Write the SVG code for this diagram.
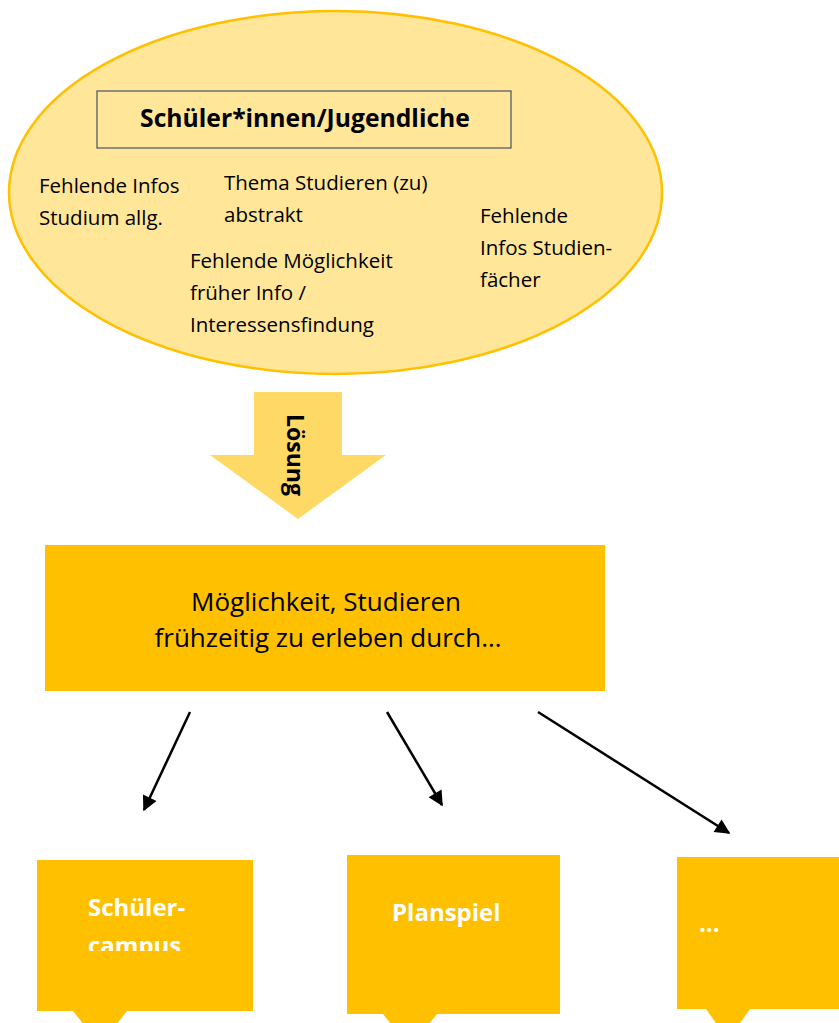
<svg xmlns="http://www.w3.org/2000/svg" width="839" height="1023" viewBox="0 0 839 1023">
<style>
.t{font-family:"Open Sans","Liberation Sans",sans-serif;fill:#000}
.body{font-size:20.5px}
.w{font-family:"Open Sans","Liberation Sans",sans-serif;font-weight:bold;font-size:24px;fill:#fff}
.box{fill:#FFC000}
.conn{stroke:#000;stroke-width:2.5;fill:none;marker-end:url(#ah)}
</style>
<defs>
<marker id="ah" viewBox="0 0 10 10" refX="9" refY="5" markerWidth="6.4" markerHeight="6" markerUnits="strokeWidth" orient="auto">
<path d="M0,0 L10,5 L0,10 z" fill="#000"/>
</marker>
<clipPath id="clip1"><rect x="37" y="860" width="216" height="91"/></clipPath>
</defs>
<rect width="839" height="1023" fill="#fff"/>

<g id="students">
<ellipse cx="335.5" cy="192.5" rx="326.5" ry="181.5" fill="#FFE699" stroke="#FFC000" stroke-width="2.5"/>
<rect x="97" y="91" width="414" height="57" fill="#FFE699" stroke="#44546A" stroke-width="1.2"/>
<text class="t" x="305" y="127" font-size="24.7" font-weight="bold" text-anchor="middle">Schüler*innen/Jugendliche</text>
<text class="t body" x="39" y="193">Fehlende Infos</text>
<text class="t body" x="39" y="225">Studium allg.</text>
<text class="t body" x="224" y="190">Thema Studieren (zu)</text>
<text class="t body" x="224" y="222">abstrakt</text>
<text class="t body" x="480" y="223">Fehlende</text>
<text class="t body" x="480" y="255">Infos Studien-</text>
<text class="t body" x="480" y="287">fächer</text>
<text class="t body" x="190" y="268">Fehlende Möglichkeit</text>
<text class="t body" x="190" y="300">früher Info /</text>
<text class="t body" x="190" y="332">Interessensfindung</text>
</g>

<g id="loesung">
<path d="M254,392 L342,392 L342,455 L386,455 L298,519 L210,455 L254,455 Z" fill="#FFD966"/>
<text class="t" transform="translate(287,414) rotate(90)" font-size="23" font-weight="bold">Lösung</text>
</g>

<g id="main">
<rect class="box" x="45" y="545" width="560" height="146"/>
<text class="t" x="326" y="611" font-size="26" text-anchor="middle">Möglichkeit, Studieren</text>
<text class="t" x="328" y="647" font-size="26" text-anchor="middle">frühzeitig zu erleben durch…</text>
</g>

<g id="connectors">
<line class="conn" x1="190" y1="712" x2="144" y2="810"/>
<line class="conn" x1="387" y1="712" x2="442" y2="805"/>
<line class="conn" x1="538" y1="712" x2="729" y2="833"/>
</g>

<g id="schuelercampus">
<path class="box" d="M37,860 L253,860 L253,1011 L127,1011 L100,1045 L73,1011 L37,1011 Z"/>
<g clip-path="url(#clip1)">
<text class="w" x="88" y="916">Schüler-</text>
<text class="w" x="88" y="954">campus</text>
</g>
</g>

<g id="planspiel">
<path class="box" d="M347,855 L560,855 L560,1014 L437,1014 L410,1048 L383,1014 L347,1014 Z"/>
<text class="w" x="392" y="921">Planspiel</text>
</g>

<g id="more">
<path class="box" d="M677,857 L839,857 L839,1009 L750,1009 L728,1040 L706,1009 L677,1009 Z"/>
<text class="w" x="699" y="932">...</text>
</g>
</svg>
